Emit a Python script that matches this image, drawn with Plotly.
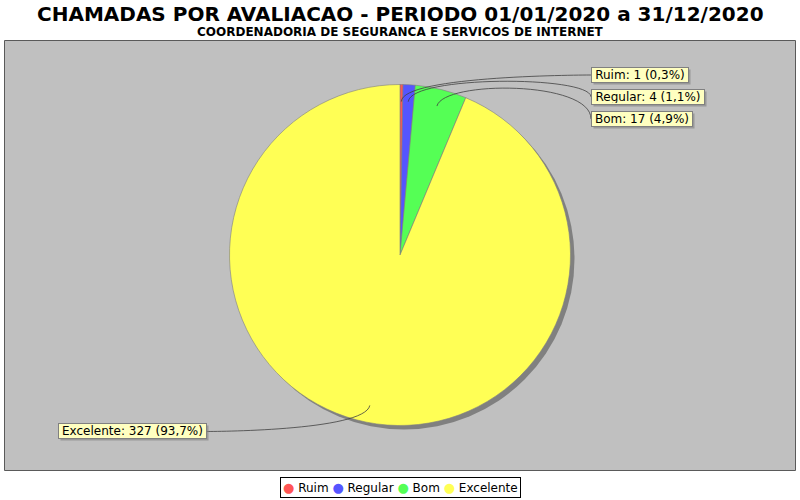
import math
import plotly.graph_objects as go

# ---------------- data ----------------
categories = ["Ruim", "Regular", "Bom", "Excelente"]
values = [1, 4, 17, 327]
colors = ["#FF5555", "#5555FF", "#55FF55", "#FFFF55"]
title_text = "CHAMADAS POR AVALIACAO - PERIODO 01/01/2020 a 31/12/2020"
subtitle_text = "COORDENADORIA DE SEGURANCA E SERVICOS DE INTERNET"

# ---------------- layout constants (pixels) ----------------
W, H = 800, 500
CX, CY, R = 400.0, 255.0, 170.5
LINK_START = 0.9          # fraction of radius where link starts
LINK_R = 180.0            # elbow radius
LABEL_X_RIGHT = 591.0     # left edge of right-side labels
LABEL_X_LEFT = 207.0      # right edge of left-side labels
LABEL_GAP = 22.0          # min vertical spacing between labels
FONT = "DejaVu Sans"
LABEL_SIZE = 12

# DejaVu Sans advance widths (units per 2048 em) for label box sizing
ADV = {" ": 651, "%": 1946, "(": 799, ")": 799, ",": 651, ":": 690,
       "B": 1405, "E": 1294, "R": 1423, "a": 1255, "c": 1126, "e": 1260,
       "g": 1300, "i": 569, "l": 569, "m": 1995, "n": 1298, "o": 1253,
       "r": 842, "t": 803, "u": 1298, "x": 1212}


def text_w(s, size):
    return sum(ADV.get(ch, 1303) for ch in s) / 2048 * size


def px(x):
    return x / W


def py(y):
    return 1 - y / H


total = sum(values)
labels_txt = []
for c, v in zip(categories, values):
    pct = f"{100 * v / total:.1f}".replace(".", ",")
    labels_txt.append(f"{c}: {v} ({pct}%)")

# angles (clockwise from 12 o'clock)
mids = []
acc = 0
for v in values:
    mids.append((acc + v / 2) / total * 2 * math.pi)
    acc += v

recs = []
for i, a in enumerate(mids):
    sx = CX + math.sin(a) * R * LINK_START
    sy = CY - math.cos(a) * R * LINK_START
    ex = CX + math.sin(a) * LINK_R
    ey = CY - math.cos(a) * LINK_R
    side = "right" if math.sin(a) >= 0 else "left"
    recs.append(dict(i=i, sx=sx, sy=sy, ex=ex, ey=ey, side=side, ly=ey))

# resolve overlaps per side
for side in ("right", "left"):
    group = sorted([r for r in recs if r["side"] == side], key=lambda r: r["ey"])
    for k in range(1, len(group)):
        if group[k]["ly"] < group[k - 1]["ly"] + LABEL_GAP:
            group[k]["ly"] = group[k - 1]["ly"] + LABEL_GAP

fig = go.Figure()
fig.add_trace(go.Pie(
    labels=categories, values=values, sort=False, direction="clockwise",
    rotation=0, textinfo="none", hoverinfo="label+value+percent",
    marker=dict(colors=colors, line=dict(color="#808080", width=0.6)),
    showlegend=False,
    domain=dict(x=[px(CX - R), px(CX + R)], y=[py(CY + R), py(CY - R)]),
))

shapes = [
    dict(type="rect", xref="paper", yref="paper",
         x0=px(4.5), x1=px(795.5), y0=py(470.5), y1=py(40.5),
         fillcolor="#C0C0C0", line=dict(color="#5a5a5a", width=1), layer="below"),
    dict(type="circle", xref="paper", yref="paper",
         x0=px(CX - R + 4), x1=px(CX + R + 4), y0=py(CY + R + 4), y1=py(CY - R + 4),
         fillcolor="#808080", line=dict(width=0), layer="below"),
]

annotations = [
    dict(text=f"<b>{title_text}</b>", x=0.5, y=py(14), xref="paper", yref="paper",
         xanchor="center", yanchor="middle", showarrow=False,
         font=dict(family=FONT, size=20, color="black")),
    dict(text=f"<b>{subtitle_text}</b>", x=0.5, y=py(32), xref="paper", yref="paper",
         xanchor="center", yanchor="middle", showarrow=False,
         font=dict(family=FONT, size=12, color="black")),
]

for r in recs:
    tx = LABEL_X_RIGHT if r["side"] == "right" else LABEL_X_LEFT
    path = (f"M {px(r['sx'])} {py(r['sy'])} "
            f"C {px(r['ex'])} {py(r['ey'])} {px(tx)} {py(r['ey'])} {px(tx)} {py(r['ly'])}")
    shapes.append(dict(type="path", xref="paper", yref="paper", path=path,
                       line=dict(color="#404040", width=0.8), layer="above"))
    xa = "left" if r["side"] == "right" else "right"
    txt = labels_txt[r["i"]]
    bw = round(text_w(txt, LABEL_SIZE) + 4)
    # shadow box (same size, no text)
    annotations.append(dict(text=" ", x=px(tx), y=py(r["ly"]), xref="paper", yref="paper",
                            xanchor=xa, yanchor="middle", showarrow=False,
                            xshift=2, yshift=-2, width=bw, height=12,
                            font=dict(family=FONT, size=LABEL_SIZE, color="rgba(0,0,0,0)"),
                            bgcolor="rgba(120,120,120,0.55)", borderwidth=1,
                            bordercolor="rgba(0,0,0,0)", borderpad=1))
    annotations.append(dict(text=txt, x=px(tx), y=py(r["ly"]), xref="paper", yref="paper",
                            xanchor=xa, yanchor="middle", showarrow=False,
                            width=bw, height=12, align="center",
                            font=dict(family=FONT, size=LABEL_SIZE, color="black"),
                            bgcolor="#FFFFC0", bordercolor="#808080", borderwidth=1,
                            borderpad=1))

legend_txt = " ".join(
    f'<span style="color:{c};font-size:13px">●</span> {cat}' for c, cat in zip(colors, categories)
)
annotations.append(dict(text=legend_txt, x=0.5, y=py(487), xref="paper", yref="paper",
                        xanchor="center", yanchor="middle", showarrow=False,
                        font=dict(family=FONT, size=12, color="black"),
                        bgcolor="white", bordercolor="black", borderwidth=1, borderpad=2))

fig.update_layout(
    width=W, height=H, margin=dict(l=0, r=0, t=0, b=0),
    paper_bgcolor="white", plot_bgcolor="white",
    shapes=shapes, annotations=annotations, showlegend=False,
)

fig.write_html("out.html", config={"displayModeBar": False})

# remove the browser's default body margin so the figure sits at the page origin
with open("out.html", "r", encoding="utf-8") as f:
    html = f.read()
html = html.replace("<head>", "<head><style>html,body{margin:0;padding:0;overflow:hidden;}</style>", 1)
with open("out.html", "w", encoding="utf-8") as f:
    f.write(html)
